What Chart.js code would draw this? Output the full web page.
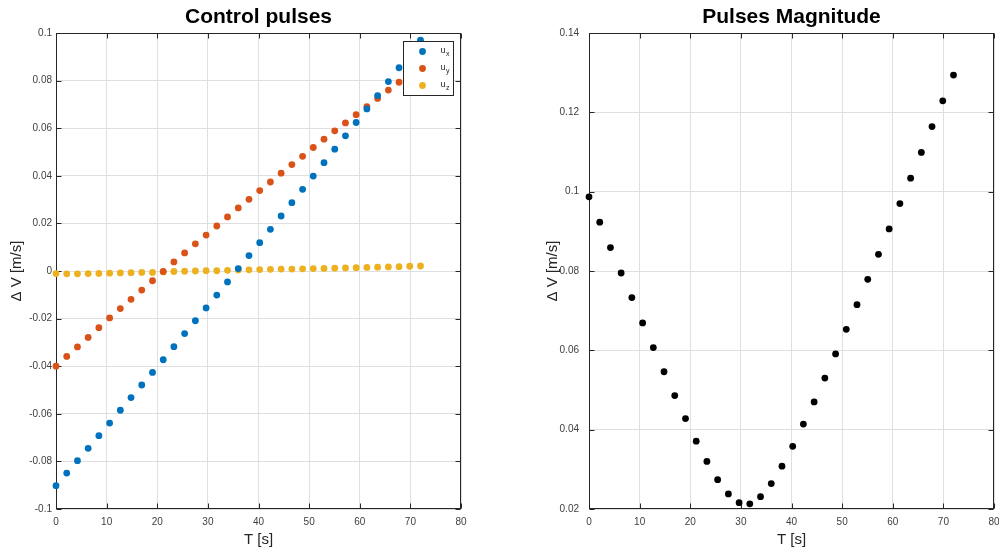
<!DOCTYPE html>
<html>
<head>
<meta charset="utf-8">
<script src="https://cdn.jsdelivr.net/npm/chart.js@4.4.1/dist/chart.umd.min.js"></script>
<style>
  html, body { margin: 0; padding: 0; background: #fff; overflow: hidden; width: 999px; height: 551px; }
  .pane { position: absolute; top: 0; height: 551px; }
  #left { left: 0; width: 495px; }
  #right { left: 500px; width: 510px; }
</style>
</head>
<body>
<div class="pane" id="left"><canvas id="c1" width="495" height="551"></canvas></div>
<div class="pane" id="right"><canvas id="c2" width="510" height="551"></canvas></div>
<script>
// Pulse times [s]
const T = [0, 2.12, 4.24, 6.35, 8.47, 10.59, 12.71, 14.82, 16.94, 19.06, 21.18, 23.29,
  25.41, 27.53, 29.65, 31.76, 33.88, 36.00, 38.12, 40.24, 42.35, 44.47, 46.59, 48.71,
  50.82, 52.94, 55.06, 57.18, 59.29, 61.41, 63.53, 65.65, 67.76, 69.88, 72.00];

// Control pulse components [m/s]
const ux = [-0.0902, -0.0849, -0.0797, -0.0745, -0.0692, -0.0639, -0.0585, -0.0532, -0.0479,
  -0.0426, -0.0373, -0.0318, -0.0263, -0.0209, -0.0155, -0.0101, -0.0046, 0.0010, 0.0065,
  0.0119, 0.0175, 0.0231, 0.0287, 0.0343, 0.0399, 0.0455, 0.0512, 0.0568, 0.0624, 0.0681,
  0.0737, 0.0796, 0.0854, 0.0910, 0.0970];
const uy = [-0.0400, -0.0359, -0.0319, -0.0279, -0.0238, -0.0197, -0.0158, -0.0119, -0.0080,
  -0.0041, -0.0002, 0.0038, 0.0076, 0.0114, 0.0151, 0.0189, 0.0227, 0.0265, 0.0301, 0.0338,
  0.0374, 0.0411, 0.0447, 0.0482, 0.0519, 0.0554, 0.0589, 0.0622, 0.0657, 0.0691, 0.0725,
  0.0760, 0.0793, 0.0826, 0.0858];
const uz = [-0.0011, -0.0012, -0.0012, -0.0011, -0.0010, -0.0009, -0.0008, -0.0007, -0.0006,
  -0.0006, -0.0004, -0.0002, -0.0001, 0.0000, 0.0001, 0.0001, 0.0003, 0.0004, 0.0005, 0.0006,
  0.0007, 0.0008, 0.0008, 0.0009, 0.0010, 0.0011, 0.0012, 0.0013, 0.0014, 0.0015, 0.0016,
  0.0017, 0.0018, 0.0020, 0.0021];

// Pulse magnitude [m/s]
const mag = [0.0987, 0.0923, 0.0859, 0.0795, 0.0733, 0.0669, 0.0607, 0.0546, 0.0486, 0.0428,
  0.0371, 0.0320, 0.0274, 0.0238, 0.0216, 0.0213, 0.0231, 0.0264, 0.0308, 0.0358, 0.0414,
  0.0470, 0.0530, 0.0591, 0.0653, 0.0715, 0.0779, 0.0842, 0.0906, 0.0970, 0.1034, 0.1099,
  0.1164, 0.1229, 0.1294];

// Tick positions
const xTicks = [0, 10, 20, 30, 40, 50, 60, 70, 80];
const yTicksPulses = [-0.1, -0.08, -0.06, -0.04, -0.02, 0, 0.02, 0.04, 0.06, 0.08, 0.1];
const yTicksMag = [0.02, 0.04, 0.06, 0.08, 0.1, 0.12, 0.14];

const FONT = "'Liberation Sans', Arial, Helvetica, sans-serif";
const AXIS = '#262626';
const GRID = '#dfdfdf';

const toPoints = (xs, ys) => xs.map((x, i) => ({ x, y: ys[i] }));
const fmt = v => { const s = +v.toFixed(2); return s === 0 ? '0' : String(s); };

// Axes box with inward tick marks on all four sides
const axesBox = {
  id: 'axesBox',
  beforeDatasetsDraw(chart) {
    const { ctx, chartArea: a, scales: { x, y } } = chart;
    const L = Math.round(a.left) + 0.5, R = Math.round(a.right) - 0.5;
    const Tp = Math.round(a.top) + 0.5, B = Math.round(a.bottom) - 0.5;
    const len = 5;
    ctx.save();
    ctx.strokeStyle = AXIS;
    ctx.lineWidth = 1;
    ctx.beginPath();
    x.ticks.forEach(t => {
      const px = Math.round(x.getPixelForValue(t.value)) + 0.5;
      ctx.moveTo(px, B); ctx.lineTo(px, B - len);
      ctx.moveTo(px, Tp); ctx.lineTo(px, Tp + len);
    });
    y.ticks.forEach(t => {
      const py = Math.round(y.getPixelForValue(t.value)) + 0.5;
      ctx.moveTo(L, py); ctx.lineTo(L + len, py);
      ctx.moveTo(R, py); ctx.lineTo(R - len, py);
    });
    ctx.stroke();
    ctx.strokeRect(L, Tp, R - L, B - Tp);
    ctx.restore();
  }
};

// Legend box with subscripted labels (label text "u_x" -> u with subscript x)
const subLegend = {
  id: 'subLegend',
  afterDatasetsDraw(chart) {
    const { ctx, chartArea: a } = chart;
    const w = 50, h = 54;
    const bx = Math.round(a.right) - 8 - w + 0.5, by = Math.round(a.top) + 8 + 0.5;
    ctx.save();
    ctx.fillStyle = '#fff';
    ctx.fillRect(bx, by, w, h);
    ctx.strokeStyle = AXIS;
    ctx.lineWidth = 1;
    ctx.strokeRect(bx, by, w, h);
    chart.data.datasets.forEach((ds, i) => {
      const cy = by + 10 + i * 17;
      ctx.fillStyle = ds.backgroundColor;
      ctx.beginPath();
      ctx.arc(bx + 19, cy, 3.4, 0, Math.PI * 2);
      ctx.fill();
      const [base, sub] = ds.label.split('_');
      ctx.fillStyle = AXIS;
      ctx.textBaseline = 'alphabetic';
      ctx.textAlign = 'left';
      ctx.font = `9px ${FONT}`;
      ctx.fillText(base, bx + 37, cy + 1);
      const bw = ctx.measureText(base).width;
      ctx.font = `7px ${FONT}`;
      ctx.fillText(sub, bx + 37 + bw + 0.5, cy + 4);
    });
    ctx.restore();
  }
};

function makeOptions(cfg) {
  return {
    responsive: false,
    animation: false,
    events: [],
    layout: { padding: { left: 0, right: cfg.padRight, top: 0, bottom: 0 } },
    plugins: {
      legend: { display: false },
      tooltip: { enabled: false },
      title: {
        display: true,
        text: cfg.title,
        fullSize: false,
        color: '#000',
        font: { family: FONT, size: 21, weight: 'bold', lineHeight: 1.2 },
        padding: { top: 5, bottom: 2.8 }
      }
    },
    scales: {
      x: {
        type: 'linear',
        min: 0, max: 80,
        afterBuildTicks: s => { s.ticks = xTicks.map(v => ({ value: v })); },
        afterFit: s => { s.height = 42; },
        grid: { color: GRID, drawTicks: false, lineWidth: 1 },
        border: { display: false },
        ticks: { autoSkip: false, maxRotation: 0, padding: 7, color: '#404040',
                 font: { family: FONT, size: 10 }, callback: v => String(v) },
        title: { display: true, text: 'T [s]', color: AXIS,
                 font: { family: FONT, size: 15, lineHeight: 1.2 }, padding: { top: 0, bottom: 2 } }
      },
      y: {
        type: 'linear',
        min: cfg.yMin, max: cfg.yMax,
        afterBuildTicks: s => { s.ticks = cfg.yTicks.map(v => ({ value: v })); },
        afterFit: s => { s.width = cfg.yWidth; },
        grid: { color: GRID, drawTicks: false, lineWidth: 1 },
        border: { display: false },
        ticks: { autoSkip: false, padding: cfg.tickPad, color: '#404040',
                 font: { family: FONT, size: 10 }, callback: fmt },
        title: { display: true, text: 'Δ V [m/s]', color: AXIS,
                 font: { family: FONT, size: 15, lineHeight: 1.2 }, padding: { top: cfg.yTitlePad, bottom: 0 } }
      }
    }
  };
}

const dot = (label, data, color) => ({
  label, data, backgroundColor: color, borderWidth: 0,
  pointRadius: 3.4, pointHoverRadius: 3.4, showLine: false, clip: false
});

new Chart(document.getElementById('c1'), {
  type: 'scatter',
  data: {
    datasets: [
      dot('u_x', toPoints(T, ux), '#0072BD'),
      dot('u_y', toPoints(T, uy), '#D95319'),
      dot('u_z', toPoints(T, uz), '#EDB120')
    ]
  },
  options: makeOptions({ title: 'Control pulses', padRight: 34, yMin: -0.1, yMax: 0.1,
    yTicks: yTicksPulses, yWidth: 56, tickPad: 4, yTitlePad: 7.5 }),
  plugins: [axesBox, subLegend]
});

new Chart(document.getElementById('c2'), {
  type: 'scatter',
  data: {
    datasets: [ dot('|u|', toPoints(T, mag), '#000000') ]
  },
  options: makeOptions({ title: 'Pulses Magnitude', padRight: 16, yMin: 0.02, yMax: 0.14,
    yTicks: yTicksMag, yWidth: 89, tickPad: 10, yTitlePad: 44 }),
  plugins: [axesBox]
});
</script>
</body>
</html>
